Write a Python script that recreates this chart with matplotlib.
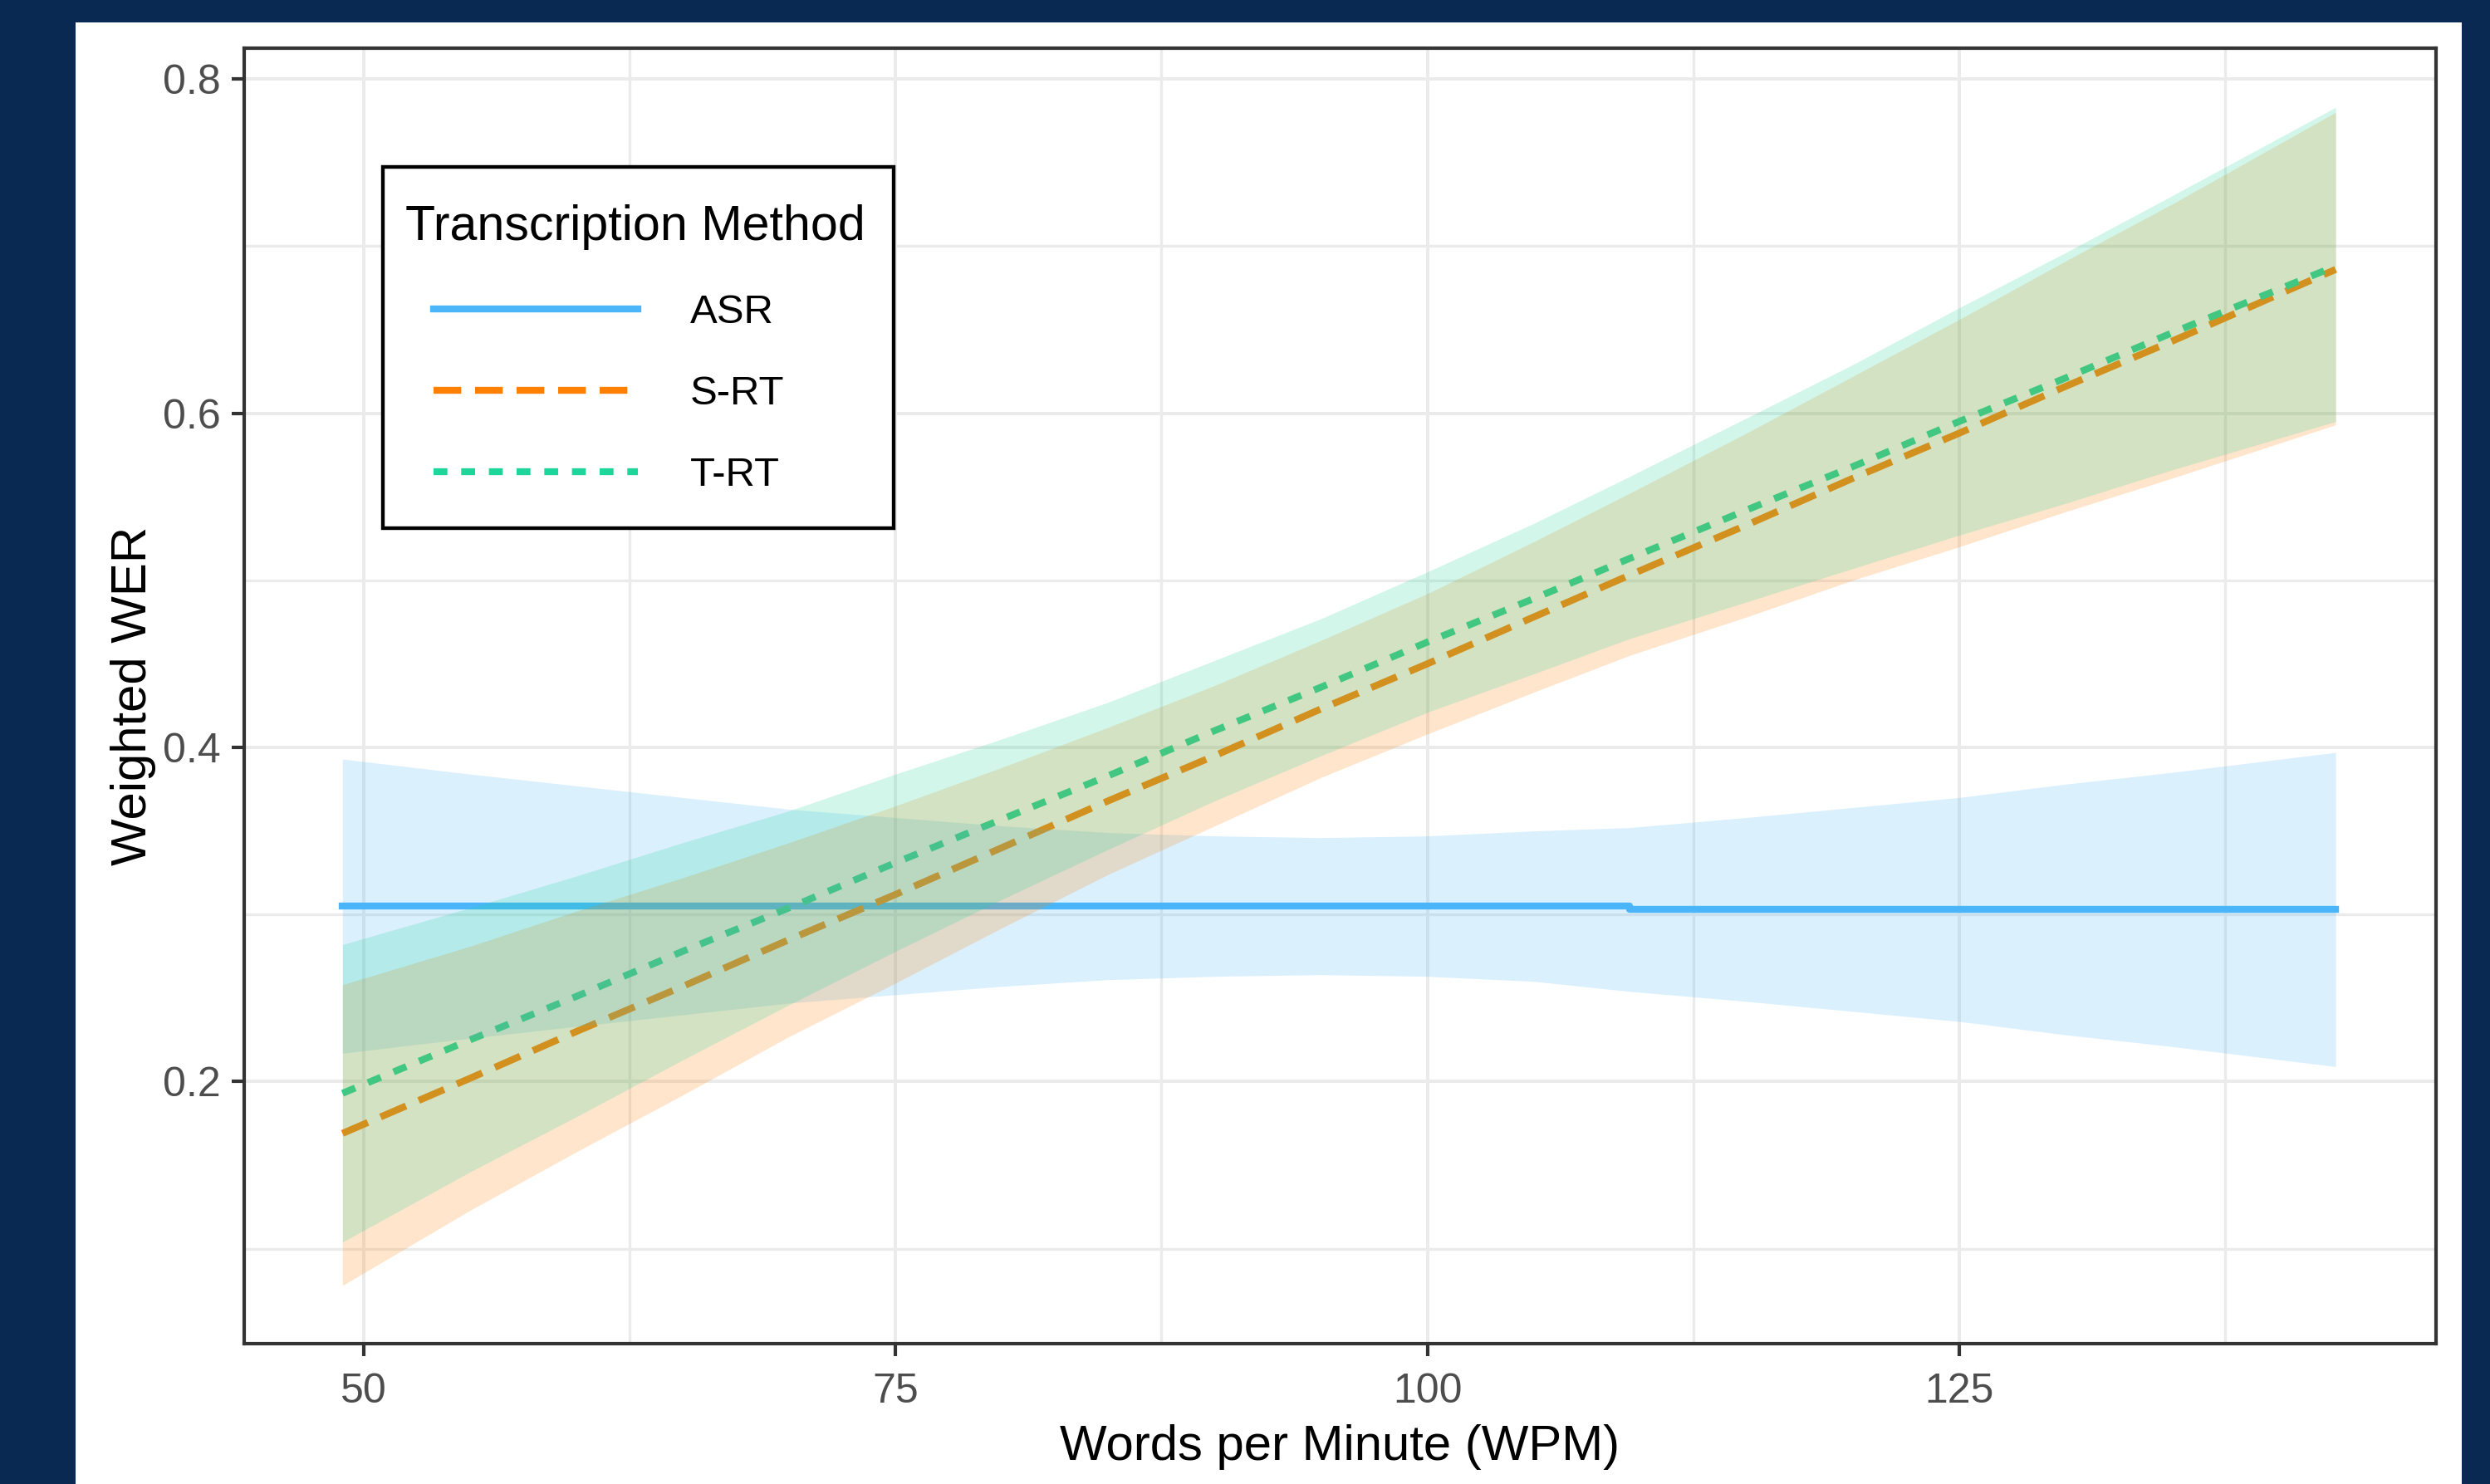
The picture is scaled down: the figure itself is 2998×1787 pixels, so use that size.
import matplotlib
matplotlib.use("Agg")
import matplotlib.pyplot as plt
from matplotlib.patches import Rectangle
from matplotlib.lines import Line2D
from matplotlib.legend_handler import HandlerLine2D

plt.rcParams['font.family'] = ['Liberation Sans', 'DejaVu Sans']

# values (predicted WER with 95% band)
wpm = [49, 55, 60, 65, 70, 75, 80, 85, 90, 95, 100, 105, 109.5, 115, 120, 125, 130, 135, 142.7]

asr_fit = [0.305, 0.305, 0.305, 0.305, 0.305, 0.305, 0.305, 0.305, 0.305, 0.305,
           0.305, 0.305, 0.303, 0.303, 0.303, 0.303, 0.303, 0.303, 0.303]
asr_hi = [0.393, 0.384, 0.377, 0.370, 0.363, 0.358, 0.353, 0.349, 0.347, 0.346,
          0.347, 0.350, 0.352, 0.358, 0.364, 0.370, 0.378, 0.385, 0.397]
asr_lo = [0.217, 0.226, 0.233, 0.240, 0.247, 0.252, 0.257, 0.261, 0.263, 0.264,
          0.263, 0.260, 0.254, 0.248, 0.242, 0.236, 0.228, 0.221, 0.209]

srt_fit = [0.169, 0.202, 0.230, 0.257, 0.285, 0.312, 0.340, 0.368, 0.395, 0.423,
           0.450, 0.478, 0.503, 0.533, 0.561, 0.588, 0.616, 0.643, 0.686]
srt_hi = [0.258, 0.281, 0.302, 0.322, 0.343, 0.365, 0.388, 0.412, 0.437, 0.464,
          0.492, 0.523, 0.552, 0.588, 0.622, 0.656, 0.691, 0.725, 0.780]
srt_lo = [0.078, 0.123, 0.158, 0.192, 0.227, 0.259, 0.292, 0.324, 0.353, 0.382,
          0.408, 0.433, 0.455, 0.478, 0.500, 0.520, 0.541, 0.561, 0.593]

trt_fit = [0.193, 0.225, 0.251, 0.278, 0.304, 0.331, 0.357, 0.383, 0.410, 0.436,
           0.463, 0.489, 0.513, 0.542, 0.568, 0.595, 0.621, 0.648, 0.688]
trt_hi = [0.282, 0.304, 0.323, 0.343, 0.362, 0.384, 0.405, 0.427, 0.452, 0.477,
          0.505, 0.534, 0.562, 0.597, 0.629, 0.663, 0.696, 0.730, 0.783]
trt_lo = [0.104, 0.146, 0.179, 0.213, 0.246, 0.278, 0.309, 0.339, 0.368, 0.395,
          0.421, 0.444, 0.465, 0.487, 0.507, 0.527, 0.546, 0.566, 0.595]

methods = ['ASR', 'S-RT', 'T-RT']
colors = ['#4ab6f9', '#ff7f00', '#1ed69a']

W, H = 2998, 1787
fig = plt.figure(figsize=(W / 300, H / 300), dpi=300)
fig.patch.set_facecolor('#0a2952')
fig.patches.append(Rectangle((91 / W, 0), (2964 - 91) / W, 1 - 27 / H,
                             transform=fig.transFigure, facecolor='white',
                             edgecolor='none', zorder=-1))

ax = fig.add_axes([294 / W, 1 - 1618 / H, (2933 - 294) / W, (1618 - 58) / H])

# lines first, ribbons on top (as in the original)
l1, = ax.plot(wpm, asr_fit, color=colors[0], lw=2.0, drawstyle='steps-post', zorder=2)
l2, = ax.plot(wpm, srt_fit, color=colors[1], lw=2.0, dashes=(4, 2), zorder=2)
l3, = ax.plot(wpm, trt_fit, color=colors[2], lw=2.0, dashes=(2, 2), zorder=2)
ax.fill_between(wpm, asr_lo, asr_hi, color=colors[0], alpha=0.2, lw=0, zorder=3)
ax.fill_between(wpm, srt_lo, srt_hi, color=colors[1], alpha=0.2, lw=0, zorder=3)
ax.fill_between(wpm, trt_lo, trt_hi, color=colors[2], alpha=0.2, lw=0, zorder=3)

ax.set_xlim(44.38, 147.42)
ax.set_ylim(0.0432, 0.8184)
ax.set_xticks([50, 75, 100, 125])
ax.set_yticks([0.2, 0.4, 0.6, 0.8])
ax.set_yticklabels(['0.2', '0.4', '0.6', '0.8'])
ax.set_xticks([62.5, 87.5, 112.5, 137.5], minor=True)
ax.set_yticks([0.1, 0.3, 0.5, 0.7], minor=True)
ax.set_axisbelow(True)
ax.grid(which='major', color='#ebebeb', lw=0.95)
ax.grid(which='minor', color='#ebebeb', lw=0.8)
ax.tick_params(which='major', length=3.7, width=1.0, color='#333333',
               labelsize=12, labelcolor='#4d4d4d')
ax.tick_params(axis='x', pad=4.6)
ax.tick_params(axis='y', pad=3.0)
ax.tick_params(which='minor', length=0)
for s in ax.spines.values():
    s.set_color('#333333')
    s.set_linewidth(1.0)
    s.set_zorder(6)

ax.set_xlabel('Words per Minute (WPM)', fontsize=14.4, color='black')
ax.set_ylabel('Weighted WER', fontsize=14.4, color='black')
ax.xaxis.set_label_coords(0.5, -0.0622)
ax.yaxis.set_label_coords(-0.0402, 0.5)

# legend frame drawn by hand, legend contents on top
ax.add_patch(Rectangle((461 / W, 1 - 636 / H), (1076 - 461) / W, (636 - 201) / H,
                       transform=fig.transFigure, facecolor='white', edgecolor='black',
                       lw=1.05, clip_on=False, zorder=7))
fs = 11.8
pad = 0.5
leg = ax.legend([l1, l2, l3], methods, title='Transcription Method',
                loc='upper left',
                bbox_to_anchor=((488 - pad * fs * 300 / 72) / W, 1 - (246 - pad * fs * 300 / 72) / H),
                bbox_transform=fig.transFigure, borderaxespad=0, frameon=False,
                fontsize=fs, title_fontsize=14.2, handlelength=5.69, handletextpad=1.28,
                labelspacing=1.08, borderpad=pad, alignment='left',
                handler_map={Line2D: HandlerLine2D(xpad=0.69)})
leg.set_zorder(8)

fig.savefig('out.png', dpi=300, facecolor=fig.get_facecolor())
